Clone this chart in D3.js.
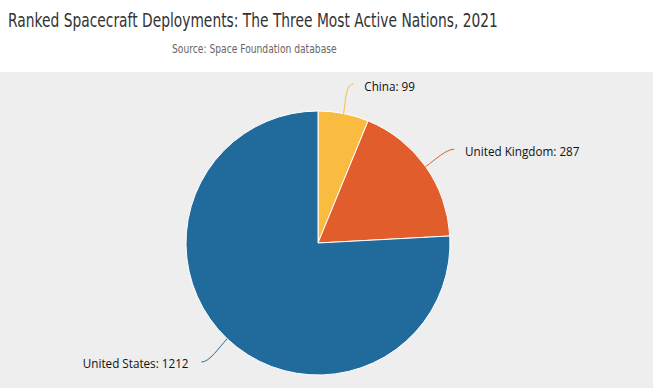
<!DOCTYPE html>
<html>
<head>
<meta charset="utf-8">
<script src="https://cdn.jsdelivr.net/npm/d3@7"></script>
<style>
  body { margin: 0; background: #fff; }
  svg { display: block; }
</style>
</head>
<body>
<div id="chart"></div>
<script>
// data
const nations = ["China", "United Kingdom", "United States"];
const deployments = [99, 287, 1212];
const sliceColors = ["#f9bc40", "#e15d2b", "#216a9c"];

const titleText = "Ranked Spacecraft Deployments: The Three Most Active Nations, 2021";
const subtitleText = "Source: Space Foundation database";

const W = 653, H = 388;
const cx = 318, cy = 243, R = 132;

const svg = d3.select("#chart")
  .append("svg")
  .attr("width", W)
  .attr("height", H);

// plot background
svg.append("rect")
  .attr("x", 0)
  .attr("y", 72)
  .attr("width", W)
  .attr("height", H - 72)
  .attr("fill", "#eeeeee");

// titles: no condensed face installed, so squeeze horizontally to the reference width
const squeezed = (x, y, width, size, color, txt) => {
  const t = svg.append("text")
    .attr("x", 0)
    .attr("y", 0)
    .attr("font-family", "'DejaVu Sans', sans-serif")
    .attr("font-size", size)
    .attr("fill", color)
    .text(txt);
  const k = width / t.node().getComputedTextLength();
  t.attr("transform", `translate(${x},${y}) scale(${k},1)`);
};

squeezed(8, 27, 490, "20px", "#333", titleText);
squeezed(172, 53, 165, "12px", "#666", subtitleText);

const data = nations.map((n, i) => ({ name: n, value: deployments[i], color: sliceColors[i] }));

const pie = d3.pie()
  .sort(null)
  .value(d => d.value);

const arc = d3.arc()
  .innerRadius(0)
  .outerRadius(R);

const arcs = pie(data);

const g = svg.append("g")
  .attr("transform", `translate(${cx},${cy})`);

g.selectAll("path.slice")
  .data(arcs)
  .enter()
  .append("path")
  .attr("class", "slice")
  .attr("d", arc)
  .attr("fill", d => d.data.color)
  .attr("stroke", "#fff")
  .attr("stroke-width", 1)
  .attr("stroke-linejoin", "round");

// Data labels with soft connectors
const labelDistance = 30;
const polar = (a, r) => [r * Math.sin(a), -r * Math.cos(a)];
const midAngle = d => (d.startAngle + d.endAngle) / 2;
const isRight = d => Math.sin(midAngle(d)) >= 0;

const lab = g.selectAll("g.label")
  .data(arcs)
  .enter()
  .append("g")
  .attr("class", "label");

lab.append("path")
  .attr("fill", "none")
  .attr("stroke", d => d.data.color)
  .attr("stroke-width", 1)
  .attr("d", d => {
    const mid = midAngle(d);
    const right = isRight(d);
    const p0 = polar(mid, R);
    const p1 = polar(mid, R + labelDistance);
    const end = [p1[0] + (right ? 4 : -5), p1[1] + (right ? 0 : 1.5)];
    const c1 = polar(mid, R + 12);
    const c2 = [end[0] + (right ? -8 : 8), end[1]];
    return `M${p0[0]},${p0[1]}C${c1[0]},${c1[1]} ${c2[0]},${c2[1]} ${end[0]},${end[1]}`;
  });

lab.append("text")
  .attr("x", d => polar(midAngle(d), R + labelDistance)[0] + (isRight(d) ? 15 : -18))
  .attr("y", d => polar(midAngle(d), R + labelDistance)[1] + 3)
  .attr("dy", "0.35em")
  .attr("text-anchor", d => isRight(d) ? "start" : "end")
  .attr("font-family", "'Open Sans', sans-serif")
  .attr("font-size", "11.7px")
  .attr("fill", "#111")
  .text(d => `${d.data.name}: ${d.data.value}`);
</script>
</body>
</html>
